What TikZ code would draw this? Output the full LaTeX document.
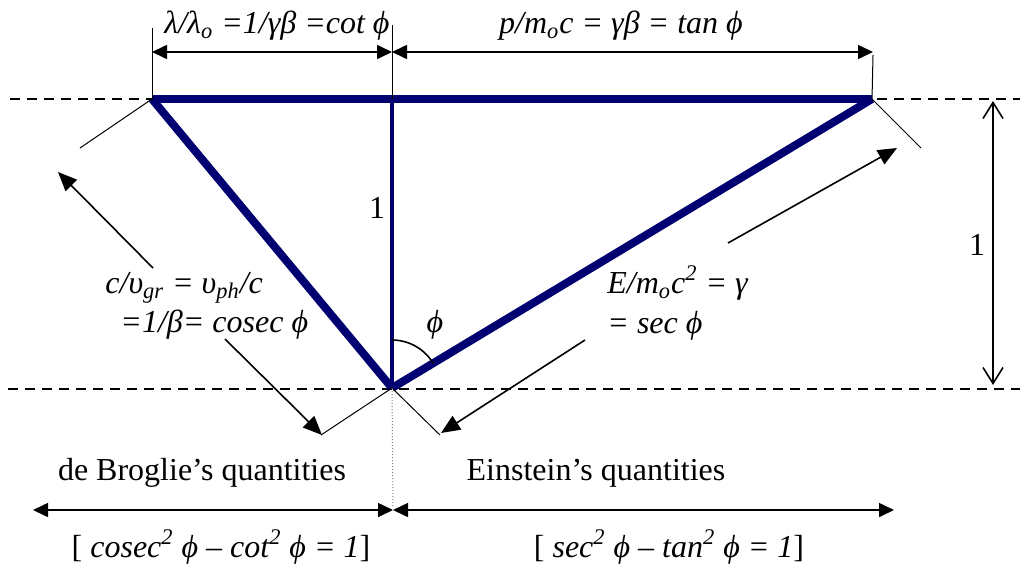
\documentclass[tikz,border=0pt]{standalone}
\usepackage{fontspec}
\setmainfont{Liberation Serif}
\usetikzlibrary{arrows.meta}
\usepackage{xcolor}
\definecolor{navy}{RGB}{0,0,112}

\begin{document}
\begin{tikzpicture}[x=0.5pt, y=-0.5pt, font=\fontsize{16}{19}\selectfont]

  % styles
  \tikzstyle{leg} = [draw=navy, line width=4pt]
  \tikzstyle{guide} = [line width=1.3pt, dash pattern=on 5pt off 3.5pt]
  \tikzstyle{tickline} = [line width=0.5pt]
  \tikzstyle{dimarrow} = [line width=0.8pt, {Triangle[length=7.5pt,width=7pt]}-{Triangle[length=7.5pt,width=7pt]}]
  \tikzstyle{arrow} = [line width=0.8pt, -{Triangle[length=9.5pt,width=8pt]}]
  \tikzstyle{formula} = [inner sep=0pt, font=\fontsize{16}{19}\selectfont\itshape]
  \tikzstyle{caption} = [inner sep=0pt]

  \useasboundingbox (0,0) rectangle (1026,563);

  % corners of the triangle
  \coordinate (A) at (152,99);
  \coordinate (B) at (872,99);
  \coordinate (O) at (392,388);
  \coordinate (T) at (392,99);

  % dashed levels
  \coordinate (topL) at (10,99);
  \coordinate (topR) at (1020,99);
  \coordinate (botL) at (8,389);
  \coordinate (botR) at (1020,389);
  \draw [guide] (topL) -- (topR);
  \draw [guide] (botL) -- (botR);

  % triangle
  \draw [leg] (A) -- (B);
  \draw [leg] (O) -- (A);
  \draw [leg] (O) -- (B);
  \draw [navy, line width=2pt] (O) -- (T);

  % angle
  \draw [line width=0.8pt] (O) ++(0,-48) arc[start angle=-90, end angle=-31, radius=48];
  \node (philab) [formula] at (435,325) {ϕ};
  \node (onel) [caption] at (377,208) {1};

  % top dimensions
  \coordinate (tickA) at (152,28);
  \coordinate (tickT) at (392,25);
  \coordinate (tickB) at (873,55);
  \coordinate (dimA) at (152,52);
  \coordinate (dimT) at (392,52);
  \coordinate (dimB) at (873,52);
  \draw [tickline] (tickA) -- (A);
  \draw [tickline] (tickT) -- (T);
  \draw [tickline] (tickB) -- (B);
  \draw [dimarrow] (dimA) -- (dimT);
  \draw [dimarrow] (dimT) -- (dimB);
  \node (cotlab) [formula, anchor=base] at (277,33) {λ/λ\textsubscript{o} =1/γβ =cot ϕ};
  \node (tanlab) [formula, anchor=base] at (621,33) {p/m\textsubscript{o}c = γβ = tan ϕ};

  % right dimension
  \coordinate (hTop) at (993,101);
  \coordinate (hBot) at (993,385);
  \draw [line width=0.8pt, {Straight Barb[length=8pt,width=10pt]}-{Straight Barb[length=8pt,width=10pt]}] (hTop) -- (hBot);
  \node (oner) [caption] at (977,245) {1};

  % perpendicular ends
  \coordinate (pA) at (80,148);
  \coordinate (pOL) at (321,435);
  \coordinate (pOR) at (440,435);
  \coordinate (pB) at (921,148);
  \draw [tickline] (A) -- (pA);
  \draw [tickline] (O) -- (pOL);
  \draw [tickline] (O) -- (pOR);
  \draw [tickline] (B) -- (pB);

  % de Broglie side
  \coordinate (la1) at (153,268);
  \coordinate (la2) at (58,172);
  \coordinate (lb1) at (225,339);
  \coordinate (lb2) at (322,435);
  \draw [arrow] (la1) -- (la2);
  \draw [arrow] (lb1) -- (lb2);
  \node (grlab) [formula, anchor=base west] at (105,293) {c/υ\textsubscript{gr} = υ\textsubscript{ph}/c};
  \node (coseclab) [formula, anchor=base west] at (120,332) {=1/β= cosec ϕ};

  % Einstein side
  \coordinate (ra1) at (728,243);
  \coordinate (ra2) at (897,148);
  \coordinate (rb1) at (585,340);
  \coordinate (rb2) at (441,433);
  \draw [arrow] (ra1) -- (ra2);
  \draw [arrow] (rb1) -- (rb2);
  \node (elab) [formula, anchor=base west] at (607,293) {E/m\textsubscript{o}c\textsuperscript{2} = γ};
  \node (seclab) [formula, anchor=base west] at (607,333) {= sec ϕ};

  % bottom split
  \coordinate (dotB) at (393,508);
  \draw [gray, densely dotted, line width=0.5pt] (O) -- (dotB);
  \coordinate (bL) at (33,510);
  \coordinate (bM) at (393,510);
  \coordinate (bR) at (894,510);
  \draw [dimarrow] (bM) -- (bL);
  \draw [dimarrow] (bM) -- (bR);
  \node (debroglie) [caption, anchor=base] at (202,480) {de Broglie’s quantities};
  \node (einstein) [caption, anchor=base] at (596,480) {Einstein’s quantities};
  \node (cosecid) [caption, anchor=base] at (221,557) {[ \textit{cosec\textsuperscript{2} ϕ – cot\textsuperscript{2} ϕ = 1}]};
  \node (secid) [caption, anchor=base] at (669,557) {[ \textit{sec\textsuperscript{2} ϕ – tan\textsuperscript{2} ϕ = 1}]};

\end{tikzpicture}
\end{document}
